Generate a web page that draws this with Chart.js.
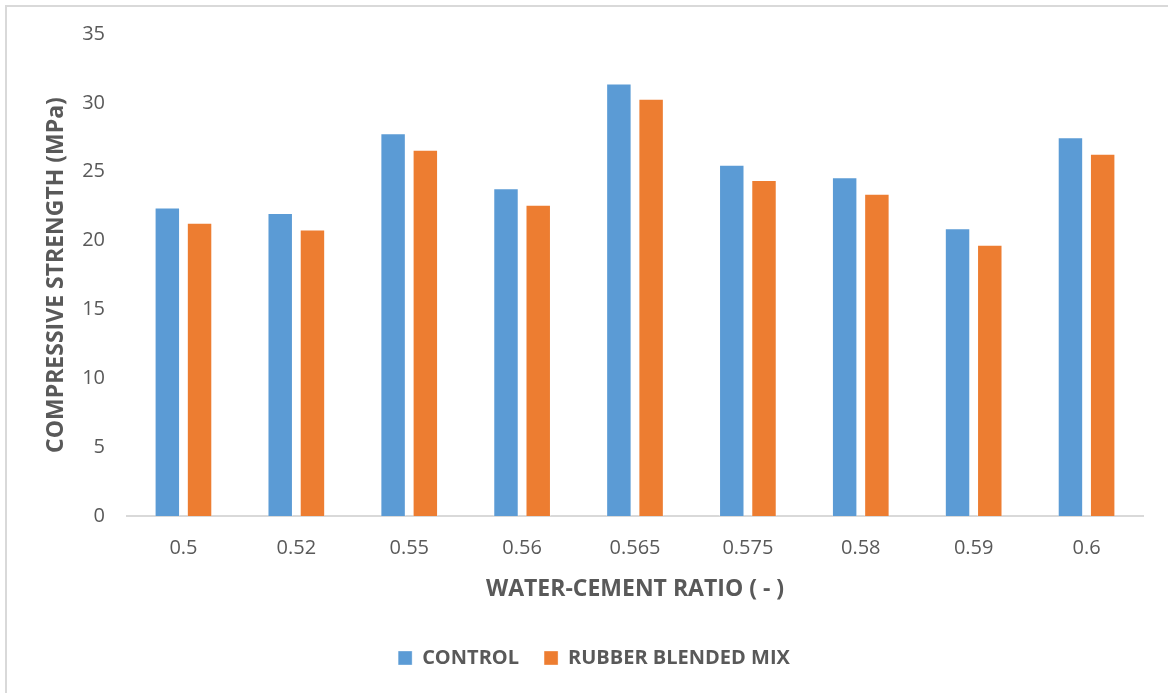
<!DOCTYPE html>
<html>
<head>
<meta charset="utf-8">
<script src="https://cdn.jsdelivr.net/npm/chart.js@4/dist/chart.umd.min.js"></script>
<style>
  html, body { margin: 0; padding: 0; background: #ffffff; }
  #wrap { position: relative; width: 1168px; height: 693px; overflow: hidden; }
  #frame { position: absolute; left: 5px; top: 5px; width: 1300px; height: 800px;
           border-left: 2px solid #d9d9d9; border-top: 2px solid #d9d9d9; }
  #chart { position: absolute; left: 0; top: 0; }
</style>
</head>
<body>
<div id="wrap">
  <div id="frame"></div>
  <canvas id="chart" width="1168" height="693"></canvas>
</div>
<script>
// Water-cement ratios tested
const ratios = ['0.5', '0.52', '0.55', '0.56', '0.565', '0.575', '0.58', '0.59', '0.6'];
// Compressive strength (MPa)
const controlStrength = [22.4, 22.0, 27.8, 23.8, 31.4, 25.5, 24.6, 20.9, 27.5];
const rubberStrength  = [21.3, 20.8, 26.6, 22.6, 30.3, 24.4, 23.4, 19.7, 26.3];
const seriesNames = ['CONTROL', 'RUBBER BLENDED MIX'];
const yTitle = 'COMPRESSIVE STRENGTH (MPa)';
const xTitle = 'WATER-CEMENT RATIO ( - )';

const textColor = '#595959';
const family = '"Open Sans", "DejaVu Sans", sans-serif';

new Chart(document.getElementById('chart'), {
  type: 'bar',
  data: {
    labels: ratios,
    datasets: [
      { label: seriesNames[0], data: controlStrength, backgroundColor: '#5b9bd5',
        borderColor: 'rgba(255,255,255,0.35)', borderWidth: 1 },
      { label: seriesNames[1], data: rubberStrength, backgroundColor: '#ed7d31',
        borderColor: 'rgba(255,255,255,0.35)', borderWidth: 1 }
    ]
  },
  options: {
    responsive: false,
    animation: false,
    datasets: { bar: { categoryPercentage: 0.571, barPercentage: 0.79 } },
    layout: { padding: { left: 45, right: 25, top: 33, bottom: 15 } },
    plugins: {
      tooltip: { enabled: false },
      legend: {
        position: 'bottom',
        labels: {
          color: textColor,
          font: { family, size: 20, weight: 'bold' },
          boxWidth: 14, boxHeight: 14, padding: 25
        }
      }
    },
    scales: {
      x: {
        grid: { display: false, drawTicks: false },
        border: { display: true, color: '#d9d9d9', width: 2 },
        ticks: { color: textColor, font: { family, size: 20 }, padding: 20 },
        title: { display: true, text: xTitle, color: textColor,
                 font: { family, size: 23, weight: 'bold' }, padding: { top: 0, bottom: 20 } },
        afterFit: s => { s.height = 107; }
      },
      y: {
        min: 0, max: 35,
        grid: { display: false, drawTicks: false },
        border: { display: false },
        ticks: { stepSize: 5, color: textColor, font: { family, size: 20 }, padding: 22 },
        title: { display: true, text: yTitle, color: textColor,
                 font: { family, size: 23, weight: 'bold' }, padding: { top: -2, bottom: 0 } },
        afterFit: s => { s.width = 82; }
      }
    }
  }
});
</script>
</body>
</html>
